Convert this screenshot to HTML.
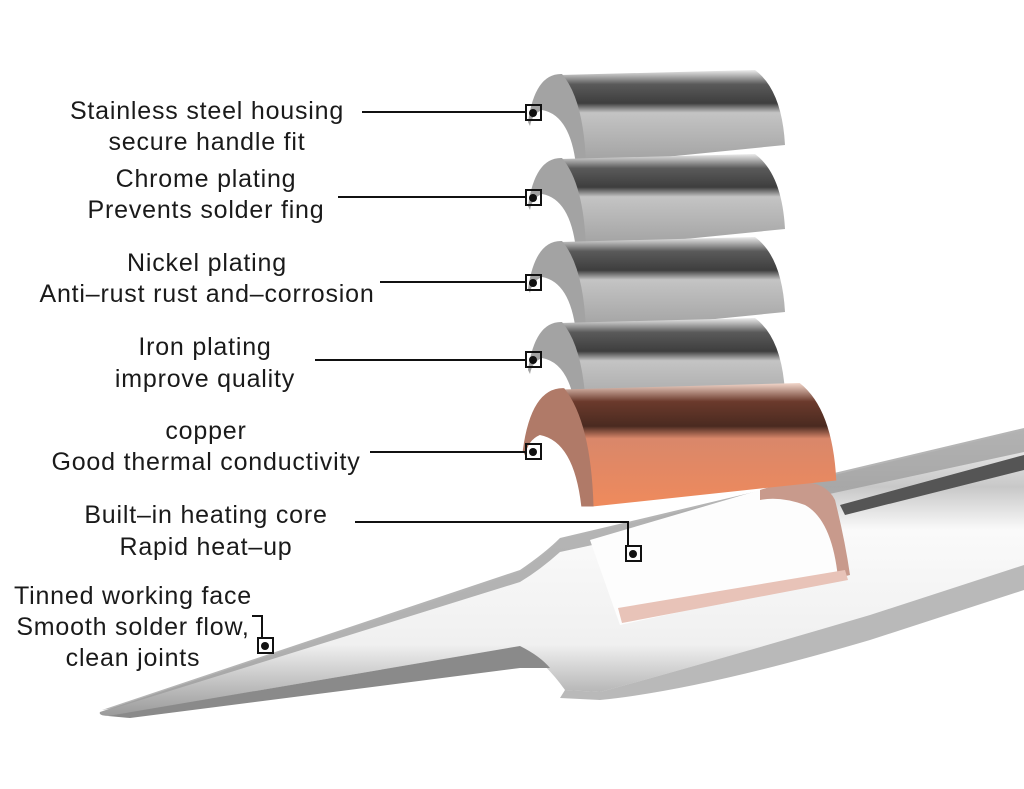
<!DOCTYPE html>
<html><head><meta charset="utf-8"><style>
html,body{margin:0;padding:0;background:#fff;}
svg{display:block}
text{font-family:"Liberation Sans",sans-serif;font-size:25px;letter-spacing:0.8px;fill:#1a1a1a;text-anchor:middle;}
</style></head><body>
<svg width="1024" height="789" viewBox="0 0 1024 789" xmlns="http://www.w3.org/2000/svg">
<defs>
<linearGradient id="gs" x1="0" y1="0" x2="0" y2="1">
<stop offset="0" stop-color="#ececec"/><stop offset="0.15" stop-color="#5a5a5a"/><stop offset="0.35" stop-color="#3e3e3e"/><stop offset="0.45" stop-color="#c4c4c4"/><stop offset="1" stop-color="#a0a0a0"/></linearGradient>
<linearGradient id="gc" x1="0" y1="0" x2="0" y2="1">
<stop offset="0" stop-color="#f3d8cc"/><stop offset="0.15" stop-color="#6b3a2c"/><stop offset="0.35" stop-color="#4a2a20"/><stop offset="0.45" stop-color="#d9876a"/><stop offset="1" stop-color="#ef8a5c"/></linearGradient>
<linearGradient id="tube" x1="0" y1="0" x2="0" y2="1">
<stop offset="0" stop-color="#f4f4f4"/><stop offset="0.2" stop-color="#c8c8c8"/><stop offset="0.35" stop-color="#fafafa"/><stop offset="0.75" stop-color="#f0f0f0"/><stop offset="1" stop-color="#9a9a9a"/></linearGradient>
<g id="shell">
<path d="M40,5 L235,0 Q262,20 265,75 L65,95 Q62,30 40,5 Z" fill="url(#gs)"/>
<path d="M8,52 Q15,3 42,4 Q64,30 66,95 L56,95 Q50,45 22,40 Q12,44 10,56 Z" fill="#a3a3a3"/>
</g>
</defs>
<!-- soldering tip body -->
<path d="M100,712 L520,572 Q545,555 560,540 L1024,430 L1024,565 L870,615 Q700,665 600,692 L565,690 Q545,662 520,646 L110,716 Q98,716 100,712 Z" fill="url(#tube)"/>
<path d="M102,710 L520,570 Q545,553 560,538 L1024,428 L1024,452 L560,552 Q540,570 520,582 L115,708 Z" fill="#9c9c9c" opacity="0.75"/>
<path d="M565,690 L600,692 Q700,665 870,615 L1024,565 L1024,590 L870,640 Q700,690 600,700 L560,698 Z" fill="#9b9b9b" opacity="0.7"/>
<path d="M108,716 L520,646 Q540,656 550,668 L520,668 L130,718 Z" fill="#8a8a8a"/>
<!-- cutout -->
<path d="M590,540 L760,490 Q840,500 850,575 L620,625 Z" fill="#fdfdfd"/>
<path d="M760,490 Q820,470 835,500 Q845,540 850,575 L838,578 Q832,520 805,505 Q780,496 760,500 Z" fill="#c89a8c"/>
<path d="M618,608 L845,570 L848,580 L622,623 Z" fill="#e8c3b8"/>
<path d="M840,505 L1024,455 L1024,470 L845,515 Z" fill="#555"/>
<!-- shells -->
<use href="#shell" x="520" y="70"/>
<use href="#shell" x="520" y="154"/>
<use href="#shell" x="520" y="237"/>
<use href="#shell" x="520" y="318"/>
<g transform="translate(513,383) scale(1.22,1.3)">
<path d="M40,5 L235,0 Q262,20 265,75 L65,95 Q62,30 40,5 Z" fill="url(#gc)"/>
<path d="M8,52 Q15,3 42,4 Q64,30 66,95 L56,95 Q50,45 22,40 Q12,44 10,56 Z" fill="#b07a68"/>
</g>
<!-- leader lines -->
<g stroke="#111" stroke-width="2" fill="none">
<path d="M362,112 H527"/><path d="M338,197 H527"/><path d="M380,282 H527"/><path d="M315,360 H527"/><path d="M370,452 H527"/>
<path d="M355,522 H628 V546"/><path d="M252,616 H262 V638"/>
<rect x="526" y="105" width="15" height="15"/><rect x="526" y="190" width="15" height="15"/><rect x="526" y="275" width="15" height="15"/><rect x="526" y="352" width="15" height="15"/><rect x="526" y="444" width="15" height="15"/><rect x="626" y="546" width="15" height="15"/><rect x="258" y="638" width="15" height="15"/>
</g>
<g fill="#111">
<circle cx="533" cy="113" r="4"/><circle cx="533" cy="198" r="4"/><circle cx="533" cy="283" r="4"/><circle cx="533" cy="360" r="4"/><circle cx="533" cy="452" r="4"/><circle cx="633" cy="554" r="4"/><circle cx="265" cy="646" r="4"/>
</g>
<!-- labels -->
<text x="207" y="119">Stainless steel housing</text>
<text x="207" y="150">secure handle fit</text>
<text x="206" y="187">Chrome plating</text>
<text x="206" y="218">Prevents solder fing</text>
<text x="207" y="271">Nickel plating</text>
<text x="207" y="302">Anti–rust rust and–corrosion</text>
<text x="205" y="355">Iron plating</text>
<text x="205" y="387">improve quality</text>
<text x="206" y="439">copper</text>
<text x="206" y="470">Good thermal conductivity</text>
<text x="206" y="523">Built–in heating core</text>
<text x="206" y="555">Rapid heat–up</text>
<text x="133" y="604">Tinned working face</text>
<text x="133" y="635">Smooth solder flow,</text>
<text x="133" y="666">clean joints</text>
</svg>
</body></html>
